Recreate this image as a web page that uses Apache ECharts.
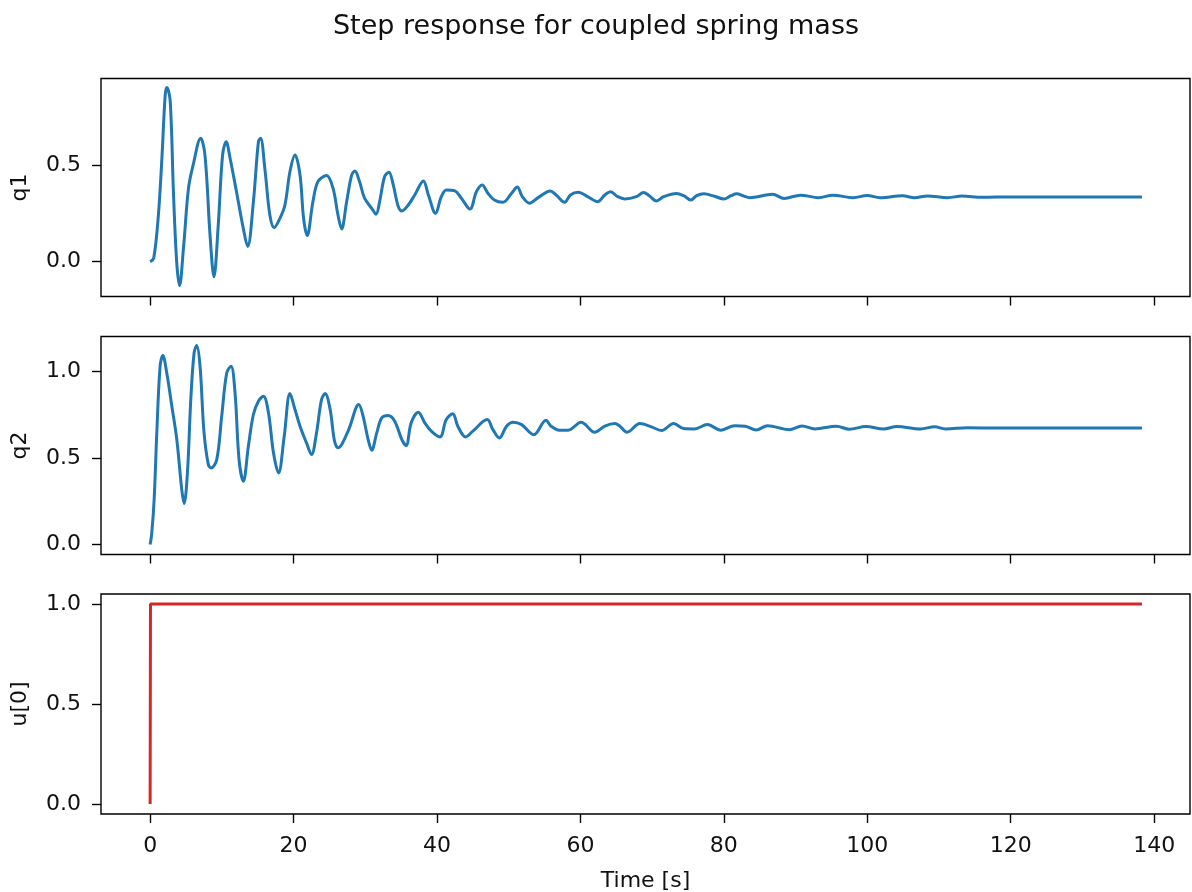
<!DOCTYPE html>
<html>
<head>
<meta charset="utf-8">
<script src="https://cdn.jsdelivr.net/npm/echarts@6/dist/echarts.min.js"></script>
<style>
  html, body { margin: 0; padding: 0; background: #fff; }
  #main { width: 1192px; height: 892px; }
</style>
</head>
<body>
<div id="main"></div>
<script>
// values, [time, value]
const q1Points = [
  [0,0],[0.5,0.018],[1.15,0.24],[1.65,0.54],[2.1,0.86],[2.35,0.90],[2.8,0.83],[3.25,0.36],[3.7,0.0],
  [4.1,-0.124],[4.65,0.07],[5.35,0.38],[6.0,0.50],[7.05,0.638],[7.65,0.55],[8.35,0.14],[8.9,-0.078],
  [9.5,0.19],[10.1,0.55],[10.6,0.62],[11.15,0.535],[12.05,0.36],[13.0,0.17],[13.6,0.078],[14.4,0.31],
  [15.1,0.62],[15.4,0.638],[16.0,0.48],[16.7,0.24],[17.3,0.176],[18.1,0.224],[18.8,0.293],[19.5,0.466],
  [20.2,0.552],[20.9,0.448],[21.4,0.224],[21.9,0.135],[22.7,0.31],[23.4,0.414],[24.6,0.445],[25.5,0.38],
  [26.2,0.24],[26.7,0.169],[27.4,0.31],[28.1,0.448],[28.55,0.469],[29.2,0.414],[29.9,0.328],[30.9,0.276],
  [31.5,0.245],[32.0,0.31],[32.7,0.44],[33.3,0.462],[33.9,0.397],[34.6,0.285],[35.1,0.262],[36.0,0.293],
  [36.9,0.345],[38.1,0.417],[38.8,0.345],[39.8,0.25],[40.6,0.336],[41.3,0.371],[42.5,0.366],[43.4,0.328],
  [44.6,0.272],[45.5,0.362],[46.3,0.397],[47.1,0.354],[48.0,0.319],[49.2,0.307],[50.4,0.354],[51.2,0.386],
  [51.9,0.336],[52.9,0.302],[54.1,0.331],[55.8,0.366],[56.6,0.345],[57.8,0.307],[58.6,0.345],[59.7,0.359],
  [61.0,0.336],[62.4,0.31],[63.4,0.345],[64.2,0.362],[65.2,0.336],[66.2,0.324],[67.8,0.336],[68.8,0.358],
  [69.6,0.341],[70.6,0.314],[71.6,0.336],[73.4,0.353],[74.4,0.341],[75.4,0.319],[76.2,0.341],[77.2,0.351],
  [78.7,0.338],[80.0,0.324],[81.0,0.341],[81.8,0.351],[82.8,0.339],[83.6,0.331],[86.8,0.348],[88.4,0.327],
  [90.7,0.344],[93.2,0.331],[95.2,0.344],[98.0,0.331],[100,0.342],[101.8,0.331],[104.9,0.341],[106.6,0.331],
  [108.4,0.34],[111.2,0.331],[113.2,0.339],[116,0.333],[120,0.335],[125,0.334],[130,0.334],[138.3,0.334]
];

const q2Points = [
  [0,0],[0.23,0.067],[0.56,0.26],[0.93,0.644],[1.39,1.029],[1.77,1.09],[2.32,0.99],[3.02,0.80],[3.72,0.606],
  [4.41,0.317],[4.74,0.236],[5.2,0.413],[5.67,0.836],[6.13,1.105],[6.5,1.148],[6.96,1.029],[7.52,0.644],
  [8.12,0.461],[8.5,0.442],[9.29,0.49],[9.98,0.74],[10.68,0.99],[11.28,1.029],[11.84,0.875],[12.4,0.49],
  [13.0,0.365],[13.7,0.567],[14.4,0.75],[15.1,0.827],[15.8,0.856],[16.5,0.76],[17.2,0.529],[17.9,0.413],
  [18.7,0.625],[19.5,0.871],[20.2,0.779],[20.9,0.683],[21.8,0.587],[22.5,0.519],[23.2,0.644],[23.9,0.836],
  [24.4,0.871],[25.1,0.78],[25.7,0.6],[26.2,0.558],[27.6,0.654],[29.1,0.808],[29.7,0.74],[30.4,0.606],
  [30.9,0.544],[31.6,0.644],[32.3,0.731],[33.2,0.744],[34.1,0.712],[35.1,0.606],[35.7,0.571],[36.4,0.702],
  [37.4,0.763],[38.3,0.702],[39.2,0.654],[40.4,0.621],[41.3,0.721],[42.2,0.755],[42.9,0.683],[44.0,0.621],
  [45.0,0.654],[47.0,0.721],[47.8,0.663],[48.7,0.615],[49.7,0.683],[50.6,0.706],[51.8,0.692],[53.5,0.634],
  [55.2,0.717],[55.9,0.683],[57.1,0.66],[58.3,0.66],[60.1,0.706],[62.0,0.648],[63.4,0.683],[64.8,0.698],
  [65.5,0.683],[66.5,0.648],[68.3,0.698],[69.9,0.679],[71.3,0.658],[73.0,0.698],[74.4,0.669],[75.9,0.667],
  [77.7,0.692],[79.6,0.66],[81.5,0.686],[83.0,0.683],[84.5,0.661],[86.1,0.686],[89.1,0.663],[90.9,0.684],
  [92.7,0.667],[95.7,0.683],[97.5,0.665],[99.8,0.681],[102.3,0.667],[104.1,0.681],[107.4,0.667],[109.4,0.679],
  [110.9,0.667],[114,0.674],[118,0.672],[125,0.673],[132,0.673],[138.3,0.673]
];

const uPoints = [[0,0],[0.05,1],[138.3,1]];

const xTicks = [0, 20, 40, 60, 80, 100, 120, 140];
const q1Ticks = [0, 0.5];
const q2Ticks = [0, 0.5, 1.0];
const uTicks = [0, 0.5, 1.0];

const FONT = 'DejaVu Sans';
const grids = [
  { left: 101, width: 1089, top: 78.5, height: 218 },
  { left: 101, width: 1089, top: 336.5, height: 218 },
  { left: 101, width: 1089, top: 594, height: 220 }
].map(g => Object.assign(g, { show: true, borderColor: '#000', borderWidth: 1.4, outerBoundsMode: 'none' }));

function xAxis(i, showLabels) {
  return {
    type: 'value', gridIndex: i, min: -6.85, max: 145, position: 'bottom',
    axisLine: { show: false, onZero: false },
    axisTick: { show: true, length: 9, customValues: xTicks, lineStyle: { color: '#000', width: 1.4 } },
    axisLabel: { show: showLabels, customValues: xTicks, margin: 21, fontSize: 22, fontFamily: FONT, color: '#111' },
    splitLine: { show: false },
    name: showLabels ? 'Time [s]' : '', nameLocation: 'middle', nameGap: 56,
    nameTextStyle: { fontSize: 22, fontFamily: FONT, color: '#111' }
  };
}
function yAxis(i, name, min, max, ticks) {
  return {
    type: 'value', gridIndex: i, min: min, max: max, position: 'left',
    axisLine: { show: false, onZero: false },
    axisTick: { show: true, length: 9, customValues: ticks, lineStyle: { color: '#000', width: 1.4 } },
    axisLabel: { customValues: ticks, margin: 20, fontSize: 22, fontFamily: FONT, color: '#111',
      formatter: v => v.toFixed(1) },
    splitLine: { show: false },
    name: name, nameLocation: 'middle', nameGap: 70,
    nameTextStyle: { fontSize: 22, fontFamily: FONT, color: '#111' }
  };
}

const chart = echarts.init(document.getElementById('main'), null, { renderer: 'canvas' });
chart.setOption({
  animation: false,
  backgroundColor: '#fff',
  title: {
    text: 'Step response for coupled spring mass', left: 'center', top: 8,
    textStyle: { fontSize: 27, fontWeight: 'normal', fontFamily: FONT, color: '#111' }
  },
  grid: grids,
  xAxis: [xAxis(0, false), xAxis(1, false), xAxis(2, true)],
  yAxis: [
    yAxis(0, 'q1', -0.18, 0.947, q1Ticks),
    yAxis(1, 'q2', -0.057, 1.2, q2Ticks),
    yAxis(2, 'u[0]', -0.05, 1.05, uTicks)
  ],
  series: [
    { type: 'line', xAxisIndex: 0, yAxisIndex: 0, data: q1Points, smooth: 0.35, showSymbol: false,
      lineStyle: { color: '#1f77b4', width: 3 } },
    { type: 'line', xAxisIndex: 1, yAxisIndex: 1, data: q2Points, smooth: 0.35, showSymbol: false,
      lineStyle: { color: '#1f77b4', width: 3 } },
    { type: 'line', xAxisIndex: 2, yAxisIndex: 2, data: uPoints, showSymbol: false,
      lineStyle: { color: '#d62728', width: 3 } }
  ]
});
</script>
</body>
</html>
